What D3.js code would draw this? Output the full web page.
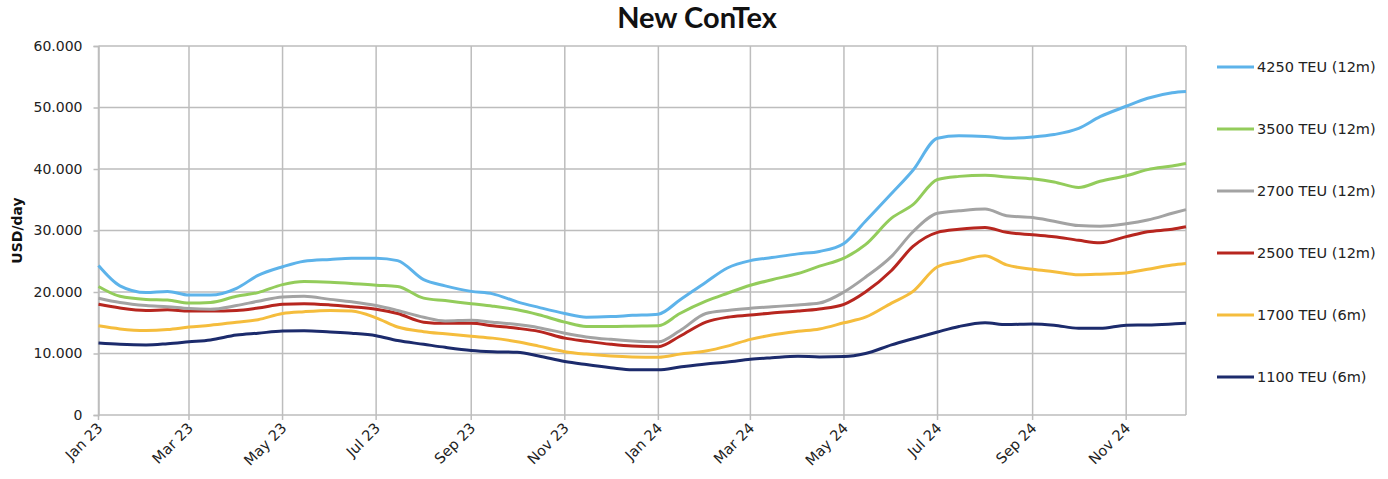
<!DOCTYPE html>
<html>
<head>
<meta charset="utf-8">
<script src="https://cdn.jsdelivr.net/npm/d3@7"></script>
<style>
  body { margin: 0; background: #fff; }
  svg text { font-family: "DejaVu Sans", Verdana, sans-serif; }
</style>
</head>
<body>
<div id="chart"></div>
<script>
// semi-monthly readings
const dates = [
  '2023-01-01','2023-01-15','2023-02-01','2023-02-15','2023-03-01','2023-03-15',
  '2023-04-01','2023-04-15','2023-05-01','2023-05-15','2023-06-01','2023-06-15',
  '2023-07-01','2023-07-15','2023-08-01','2023-08-15','2023-09-01','2023-09-15',
  '2023-10-01','2023-10-15','2023-11-01','2023-11-15','2023-12-01','2023-12-15',
  '2024-01-01','2024-01-15','2024-02-01','2024-02-15','2024-03-01','2024-03-15',
  '2024-04-01','2024-04-15','2024-05-01','2024-05-15','2024-06-01','2024-06-15',
  '2024-07-01','2024-07-15','2024-08-01','2024-08-15','2024-09-01','2024-09-15',
  '2024-10-01','2024-10-15','2024-11-01','2024-11-15','2024-12-01','2024-12-10'
]

const teu4250 = [24300,21000,19900,20100,19500,19500,20600,22700,24100,25000,25300,25500,
  25500,25100,22000,21000,20100,19700,18400,17500,16500,15900,16000,16200,
  16400,18700,21600,23900,25100,25600,26200,26600,27900,31500,36000,39800,
  45000,45400,45300,45000,45200,45600,46600,48500,50200,51500,52400,52600]
const teu3500 = [20900,19300,18800,18700,18200,18300,19300,19900,21200,21700,21600,21400,
  21100,20900,19000,18600,18100,17700,17100,16300,15100,14400,14400,14450,
  14500,16500,18500,19800,21100,22000,23000,24200,25500,27700,32000,34200,
  38300,38800,39000,38700,38400,37900,37000,38000,38900,39900,40500,40900]
const teu2700 = [19000,18300,17800,17600,17300,17200,17800,18500,19200,19300,18800,18400,
  17800,17000,15900,15300,15400,15100,14700,14200,13300,12700,12300,12050,
  11900,13700,16500,17000,17350,17600,17900,18200,20000,22400,25800,29800,
  32800,33200,33500,32400,32100,31500,30800,30700,31100,31700,32800,33400]
const teu2500 = [18000,17400,17000,17100,16900,16900,17000,17400,18000,18100,17900,17600,
  17200,16500,15100,14900,14900,14500,14100,13600,12500,12000,11500,11200,
  11100,12800,15100,15900,16250,16600,16900,17250,18000,20000,23500,27400,
  29700,30200,30500,29700,29300,29000,28400,28000,29000,29800,30200,30600]
const teu1700 = [14500,14000,13750,13900,14300,14600,15100,15500,16500,16800,17000,16900,
  15800,14300,13550,13200,12800,12500,11900,11200,10300,9900,9600,9450,
  9400,9900,10400,11200,12300,13000,13600,14000,15000,15900,18200,20100,
  24100,25000,25900,24400,23700,23300,22800,22900,23100,23700,24400,24650]
const teu1100 = [11700,11500,11400,11600,11900,12200,13000,13300,13650,13700,13500,13300,
  12900,12100,11500,11000,10500,10300,10200,9600,8700,8200,7700,7350,
  7350,7800,8300,8600,9050,9300,9550,9450,9500,10000,11400,12400,
  13500,14400,15000,14700,14800,14600,14100,14100,14600,14650,14800,14900]

const seriesNames = ['4250 TEU (12m)','3500 TEU (12m)','2700 TEU (12m)','2500 TEU (12m)','1700 TEU (6m)','1100 TEU (6m)']
const seriesValues = [teu4250, teu3500, teu2700, teu2500, teu1700, teu1100]
const seriesColors = ['#5DB3EA','#93CC5B','#A3A3A3','#B7261F','#F5BD3D','#1C2B6C']
const yTicks = [0,10000,20000,30000,40000,50000,60000]

const width = 1388
const height = 479
const margin = {top: 46, right: 202, bottom: 64, left: 98.5}

const parse = d3.timeParse('%Y-%m-%d')
const dateObjs = dates.map(parse)

const svg = d3.select('#chart')
  .append('svg')
  .attr('width', width)
  .attr('height', height)

const xScale = d3.scaleTime()
  .domain([dateObjs[0], dateObjs[dateObjs.length - 1]])
  .range([margin.left, width - margin.right])

const yScale = d3.scaleLinear()
  .domain([0, 60000])
  .range([height - margin.bottom, margin.top])

const locale = d3.formatLocale({decimal: ',', thousands: '.', grouping: [3], currency: ['', '']})
const fmt = locale.format(',')

const gridColor = '#bdbdbd'

// horizontal grid
svg.append('g')
  .selectAll('line')
  .data(yTicks)
  .join('line')
  .attr('x1', margin.left)
  .attr('x2', width - margin.right)
  .attr('y1', d => yScale(d))
  .attr('y2', d => yScale(d))
  .attr('stroke', gridColor)
  .attr('stroke-width', 1.5)

const monthTicks = d3.timeMonth.every(2).range(dateObjs[0], dateObjs[dateObjs.length - 1])

// vertical grid
svg.append('g')
  .selectAll('line')
  .data(monthTicks)
  .join('line')
  .attr('x1', d => xScale(d))
  .attr('x2', d => xScale(d))
  .attr('y1', margin.top)
  .attr('y2', height - margin.bottom + 5)
  .attr('stroke', gridColor)
  .attr('stroke-width', 1.5)

// right border
svg.append('line')
  .attr('x1', width - margin.right).attr('x2', width - margin.right)
  .attr('y1', margin.top).attr('y2', height - margin.bottom)
  .attr('stroke', gridColor).attr('stroke-width', 1.5)

// y axis
const yAxis = d3.axisLeft(yScale)
  .tickValues(yTicks)
  .tickFormat(d => fmt(d))
  .tickSize(5)
  .tickPadding(11)

const yAxisGroup = svg.append('g')
  .attr('transform', `translate(${margin.left},0)`)
  .call(yAxis)
yAxisGroup.select('.domain').attr('stroke', gridColor).attr('stroke-width', 1.5)
yAxisGroup.selectAll('.tick line').attr('stroke', gridColor).attr('stroke-width', 1.5)
yAxisGroup.selectAll('.tick text')
  .style('font-size', '14px')
  .attr('fill', '#222')

// x axis labels
const xFmt = d3.timeFormat('%b %y')
svg.append('g')
  .selectAll('text')
  .data(monthTicks)
  .join('text')
  .attr('transform', d => `translate(${xScale(d) + 5},${height - margin.bottom + 14}) rotate(-45)`)
  .attr('text-anchor', 'end')
  .style('font-size', '14.5px')
  .attr('fill', '#222')
  .text(d => xFmt(d))

// lines
const line = d3.line()
  .x((d, i) => xScale(dateObjs[i]))
  .y(d => yScale(d))
  .curve(d3.curveMonotoneX)

svg.append('g')
  .selectAll('path')
  .data(seriesValues.slice().reverse())
  .join('path')
  .attr('d', d => line(d))
  .attr('fill', 'none')
  .attr('stroke', (d, i) => seriesColors[seriesColors.length - 1 - i])
  .attr('stroke-width', 3)
  .attr('stroke-linejoin', 'round')

// title
svg.append('text')
  .attr('x', 697)
  .attr('y', 28)
  .attr('text-anchor', 'middle')
  .style('font-family', 'Lato, "Open Sans", sans-serif')
  .style('font-weight', 'bold')
  .style('font-size', '29px')
  .attr('fill', '#111')
  .text('New ConTex')

// y label
svg.append('text')
  .attr('transform', `translate(22,${(margin.top + height - margin.bottom) / 2}) rotate(-90)`)
  .attr('text-anchor', 'middle')
  .style('font-size', '14px')
  .style('font-weight', 'bold')
  .attr('fill', '#111')
  .text('USD/day')

// legend
const legend = svg.append('g')
  .selectAll('g')
  .data(seriesNames)
  .join('g')
  .attr('transform', (d, i) => `translate(1217,${67 + i * 62})`)

legend.append('line')
  .attr('x1', 0).attr('x2', 37)
  .attr('stroke', (d, i) => seriesColors[i])
  .attr('stroke-width', 3)

legend.append('text')
  .attr('x', 40)
  .attr('dy', '0.35em')
  .style('font-size', '14.5px')
  .attr('fill', '#222')
  .text(d => d)
</script>
</body>
</html>
